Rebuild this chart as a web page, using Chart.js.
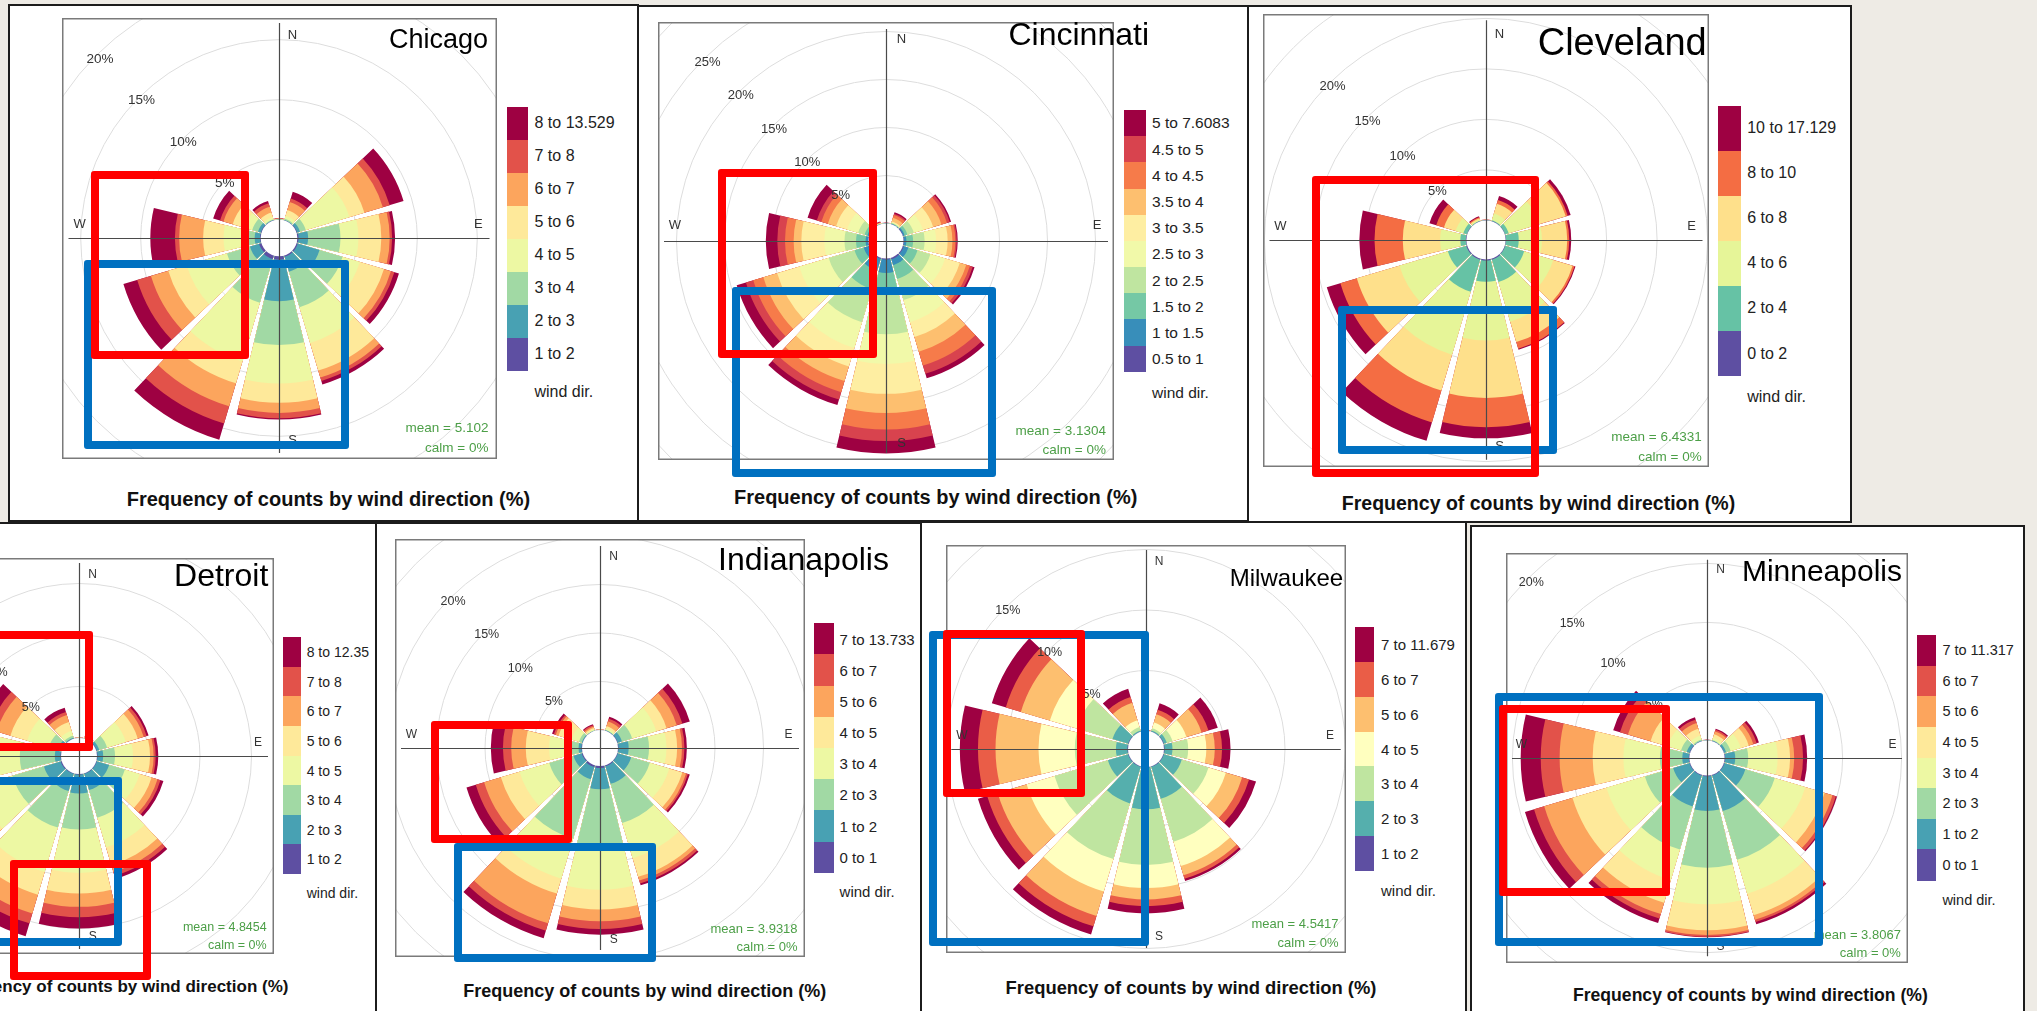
<!DOCTYPE html>
<html>
<head>
<meta charset="utf-8">
<script src="https://cdn.jsdelivr.net/npm/chart.js"></script>
<style>
  html, body { margin: 0; padding: 0; }
  body { width: 2037px; height: 1011px; overflow: hidden; background: #EEEBE5; position: relative;
         font-family: "Liberation Sans", Arial, sans-serif; }
  .panel { position: absolute; box-sizing: border-box; border: 2px solid #1c1c1c; background: #fff; }
  .txt { position: absolute; white-space: nowrap; line-height: 1; color: #222; }
  .key { position: absolute; }
  .mark { position: absolute; box-sizing: border-box; border-width: 8px; border-style: solid; border-radius: 3px; }
  canvas { position: absolute; }
</style>
</head>
<body>
<script>
// 30-degree direction sectors, clockwise from north
const directions = ['N', 'NNE', 'ENE', 'E', 'ESE', 'SSE', 'S', 'SSW', 'WSW', 'W', 'WNW', 'NNW'];
const footerText = 'Frequency of counts by wind direction (%)';
const calmText = 'calm = 0%';

// Each "Cumulative" table: one row per direction (N first), one column per
// speed band (slowest first); value = % of counts up to and including that band.

const chicagoBands = ['1 to 2', '2 to 3', '3 to 4', '4 to 5', '5 to 6', '6 to 7', '7 to 8', '8 to 13.529'];
const chicagoMean = 'mean = 5.102';
const chicagoCumulative = [
  [0.00, 0.02, 0.04, 0.06, 0.08, 0.10, 0.12, 0.15],
  [0.02, 0.05, 0.15, 0.40, 0.90, 1.60, 1.90, 2.50],
  [0.05, 0.30, 0.80, 4.60, 5.90, 7.50, 8.10, 9.30],
  [0.10, 0.90, 3.60, 5.10, 7.00, 7.70, 7.90, 8.15],
  [0.10, 2.00, 4.00, 5.50, 7.60, 8.20, 8.50, 8.90],
  [0.10, 1.40, 4.50, 7.60, 10.0, 10.6, 10.9, 11.2],
  [0.28, 3.75, 7.40, 10.6, 12.2, 13.05, 13.5, 13.6],
  [0.30, 1.00, 4.10, 9.20, 11.1, 13.1, 14.6, 16.0],
  [0.20, 1.00, 3.00, 6.50, 8.10, 9.60, 10.8, 12.0],
  [0.05, 0.50, 1.40, 3.10, 4.80, 6.80, 7.15, 9.20],
  [0.05, 0.30, 0.80, 1.50, 2.50, 3.30, 3.60, 4.20],
  [0.02, 0.05, 0.10, 0.30, 0.70, 1.20, 1.50, 1.70]
];

const cincinnatiBands = ['0.5 to 1', '1 to 1.5', '1.5 to 2', '2 to 2.5', '2.5 to 3', '3 to 3.5', '3.5 to 4', '4 to 4.5', '4.5 to 5', '5 to 7.6083'];
const cincinnatiMean = 'mean = 3.1304';
const cincinnatiCumulative = [
  [0.00, 0.01, 0.02, 0.03, 0.04, 0.05, 0.06, 0.07, 0.08, 0.10],
  [0.02, 0.05, 0.10, 0.15, 0.20, 0.30, 0.70, 1.00, 1.15, 1.30],
  [0.05, 0.20, 0.50, 1.20, 2.20, 3.30, 4.20, 4.80, 5.10, 5.25],
  [0.05, 0.30, 1.00, 2.20, 3.40, 4.60, 5.10, 5.40, 5.55, 5.65],
  [0.10, 0.60, 1.60, 3.00, 4.60, 6.20, 6.90, 7.30, 7.60, 7.80],
  [0.15, 0.80, 2.30, 4.60, 7.00, 8.60, 10.2, 11.7, 12.6, 13.1],
  [0.10, 1.50, 3.40, 7.90, 11.0, 14.1, 16.1, 17.8, 19.0, 20.3],
  [0.10, 1.40, 3.40, 7.00, 9.80, 11.8, 13.4, 14.6, 15.4, 16.0],
  [0.10, 0.60, 1.60, 4.40, 7.60, 10.0, 11.5, 12.6, 13.4, 14.4],
  [0.05, 0.30, 1.30, 2.50, 4.60, 7.00, 7.80, 8.70, 9.50, 10.7],
  [0.05, 0.20, 0.50, 1.20, 2.40, 3.60, 4.50, 5.20, 5.70, 6.70],
  [0.01, 0.02, 0.04, 0.06, 0.08, 0.10, 0.15, 0.20, 0.25, 0.30]
];

const clevelandBands = ['0 to 2', '2 to 4', '4 to 6', '6 to 8', '8 to 10', '10 to 17.129'];
const clevelandMean = 'mean = 6.4331';
const clevelandCumulative = [
  [0.01, 0.03, 0.05, 0.07, 0.09, 0.10],
  [0.02, 0.10, 0.80, 1.80, 2.20, 2.60],
  [0.02, 0.40, 3.60, 6.30, 6.50, 6.80],
  [0.03, 1.30, 3.60, 6.10, 6.30, 6.50],
  [0.05, 2.00, 5.00, 7.00, 7.20, 7.30],
  [0.10, 2.40, 6.50, 8.60, 9.30, 9.40],
  [0.10, 2.20, 8.00, 13.7, 16.6, 17.7],
  [0.10, 3.40, 9.90, 13.6, 16.9, 18.8],
  [0.10, 2.00, 7.00, 11.4, 13.1, 14.5],
  [0.05, 0.60, 2.60, 6.30, 9.10, 10.6],
  [0.02, 0.40, 1.20, 2.40, 3.20, 3.90],
  [0.01, 0.05, 0.15, 0.30, 0.40, 0.50]
];

const detroitBands = ['1 to 2', '2 to 3', '3 to 4', '4 to 5', '5 to 6', '6 to 7', '7 to 8', '8 to 12.35'];
const detroitMean = 'mean = 4.8454';
const detroitCumulative = [
  [0.00, 0.01, 0.02, 0.03, 0.04, 0.05, 0.06, 0.08],
  [0.01, 0.02, 0.05, 0.10, 0.15, 0.20, 0.25, 0.30],
  [0.05, 0.30, 1.10, 3.00, 4.20, 4.80, 5.10, 5.30],
  [0.05, 0.60, 1.75, 3.50, 5.15, 5.50, 5.70, 5.95],
  [0.05, 1.30, 2.90, 4.40, 5.60, 6.20, 6.50, 6.80],
  [0.05, 1.70, 4.50, 7.50, 9.30, 10.0, 10.4, 10.7],
  [0.05, 1.90, 5.40, 9.60, 11.6, 12.9, 13.9, 15.0],
  [0.05, 1.80, 5.50, 10.0, 12.3, 14.2, 15.2, 16.5],
  [0.10, 1.80, 5.00, 8.50, 10.5, 12.0, 12.8, 14.0],
  [0.05, 0.60, 4.00, 6.50, 8.00, 9.20, 9.80, 10.8],
  [0.05, 0.40, 1.30, 3.50, 5.20, 6.60, 7.30, 8.40],
  [0.02, 0.10, 0.30, 0.80, 1.70, 2.40, 2.70, 3.15]
];

const indianapolisBands = ['0 to 1', '1 to 2', '2 to 3', '3 to 4', '4 to 5', '5 to 6', '6 to 7', '7 to 13.733'];
const indianapolisMean = 'mean = 3.9318';
const indianapolisCumulative = [
  [0.00, 0.01, 0.02, 0.03, 0.04, 0.05, 0.06, 0.08],
  [0.02, 0.05, 0.10, 0.30, 0.50, 1.00, 1.30, 1.50],
  [0.05, 0.50, 1.60, 4.20, 5.30, 6.40, 7.00, 7.80],
  [0.05, 1.10, 3.20, 5.00, 6.10, 6.60, 6.85, 7.10],
  [0.05, 1.50, 3.50, 5.60, 7.00, 7.40, 7.60, 7.80],
  [0.10, 2.00, 6.20, 10.0, 12.0, 12.4, 12.7, 12.9],
  [0.20, 2.40, 8.60, 12.75, 14.8, 16.0, 16.8, 17.4],
  [0.20, 1.50, 7.90, 12.2, 13.8, 17.0, 17.8, 18.6],
  [0.10, 1.00, 3.60, 6.80, 8.80, 10.6, 11.5, 12.5],
  [0.05, 0.35, 1.60, 3.40, 5.80, 7.30, 8.15, 9.40],
  [0.02, 0.10, 0.40, 1.20, 2.60, 2.90, 3.10, 3.30],
  [0.01, 0.03, 0.06, 0.15, 0.30, 0.45, 0.60, 0.70]
];

const milwaukeeBands = ['1 to 2', '2 to 3', '3 to 4', '4 to 5', '5 to 6', '6 to 7', '7 to 11.679'];
const milwaukeeMean = 'mean = 4.5417';
const milwaukeeCumulative = [
  [0.00, 0.01, 0.02, 0.04, 0.06, 0.08, 0.10],
  [0.02, 0.10, 0.30, 0.80, 1.50, 1.90, 2.45],
  [0.05, 0.30, 0.80, 2.00, 3.30, 3.90, 4.70],
  [0.05, 0.70, 2.00, 3.50, 4.20, 4.80, 5.50],
  [0.05, 1.60, 3.90, 5.40, 6.80, 7.40, 8.00],
  [0.05, 2.80, 6.50, 8.60, 9.40, 9.70, 9.90],
  [0.05, 3.50, 8.10, 10.0, 10.95, 11.5, 12.1],
  [0.05, 3.20, 8.00, 10.8, 12.9, 13.8, 14.5],
  [0.05, 1.80, 6.40, 8.80, 11.3, 12.2, 13.0],
  [0.05, 1.00, 4.40, 7.40, 10.95, 12.4, 13.9],
  [0.05, 1.40, 4.50, 6.80, 9.30, 10.6, 11.8],
  [0.02, 0.10, 0.40, 1.00, 2.50, 3.00, 3.70]
];

const minneapolisBands = ['0 to 1', '1 to 2', '2 to 3', '3 to 4', '4 to 5', '5 to 6', '6 to 7', '7 to 11.317'];
const minneapolisMean = 'mean = 3.8067';
const minneapolisCumulative = [
  [0.00, 0.01, 0.02, 0.03, 0.04, 0.05, 0.06, 0.08],
  [0.02, 0.05, 0.10, 0.30, 0.60, 0.85, 1.00, 1.10],
  [0.02, 0.20, 0.60, 1.50, 2.20, 2.60, 2.90, 3.10],
  [0.05, 0.90, 2.00, 4.50, 5.55, 5.90, 6.65, 7.00],
  [0.05, 1.90, 4.50, 7.20, 8.90, 9.60, 9.90, 10.0],
  [0.05, 3.20, 7.50, 10.5, 12.4, 12.8, 13.0, 13.2],
  [0.05, 3.00, 7.80, 10.9, 13.1, 13.5, 13.65, 13.7],
  [0.05, 2.80, 6.60, 9.30, 11.3, 12.3, 12.7, 13.1],
  [0.05, 1.50, 4.00, 7.40, 10.4, 12.9, 13.8, 14.6],
  [0.05, 0.60, 2.50, 5.60, 8.20, 11.0, 12.6, 14.3],
  [0.05, 0.30, 0.80, 2.00, 3.50, 5.50, 6.20, 6.80],
  [0.02, 0.05, 0.15, 0.50, 1.10, 1.60, 1.90, 2.10]
];

// Spectral palette anchors (slow = purple ... fast = dark red)
const spectral = [[94,79,162],[50,136,189],[102,194,165],[171,221,164],[230,245,152],[255,255,191],
                  [254,224,139],[253,174,97],[244,109,67],[213,62,79],[158,1,66]];
function speedColours(n) {
  const out = [];
  for (let i = 0; i < n; i++) {
    const t = i * 10 / (n - 1);
    const a = Math.floor(t), b = Math.min(10, a + 1), f = t - a;
    const c = spectral[a].map((v, j) => Math.round(v + (spectral[b][j] - v) * f));
    out.push('rgb(' + c.join(',') + ')');
  }
  return out;
}

// Page layout of each plot: frame = [x, y, w, h]; r0 = calm-hole radius (px); k = px per %
const panels = [
  { name: 'Chicago', bands: chicagoBands, table: chicagoCumulative, mean: chicagoMean,
    panel: [8, 4, 639, 522], frame: [62, 18, 435, 441], r0: 18.3, k: 12,
    axis: [210.5, 215], compass: [199.3, 202.5, 13.5], compassFont: 13,
    grid: [5, 10, 15, 20, 25], pct: [5, 10, 15, 20], pctFont: 13.5,
    title: [488, 39, 27],
    legend: { x: 507, top: 106.7, w: 20.5, h: 264, labelX: 534.5, size: 16, windY: 392 },
    stats: [488.5, 428, 448, 13.5], footer: [328.4, 498.3, 20],
    marks: [['#0070C0', 84, 260, 348.8, 449.3], ['#FF0000', 90.6, 170.7, 248.9, 359.3]] },
  { name: 'Cincinnati', bands: cincinnatiBands, table: cincinnatiCumulative, mean: cincinnatiMean,
    panel: [637, 5, 1249, 522], frame: [658, 22, 456, 438], r0: 17.5, k: 9.6,
    axis: [222, 212], compass: [211, 202, 15.5], compassFont: 13,
    grid: [5, 10, 15, 20, 25, 30], pct: [5, 10, 15, 20, 25], pctFont: 13,
    title: [1149, 34, 32],
    legend: { x: 1123.5, top: 110, w: 22.4, h: 261.7, labelX: 1152, size: 15.5, windY: 393 },
    stats: [1106, 430.7, 450, 13.5], footer: [935.7, 496.7, 20],
    marks: [['#0070C0', 732, 287.3, 996.3, 476.7], ['#FF0000', 718.2, 169.3, 876.8, 358.3]] },
  { name: 'Cleveland', bands: clevelandBands, table: clevelandCumulative, mean: clevelandMean,
    panel: [1247, 5, 1852, 523], frame: [1263, 14, 446, 453], r0: 19.6, k: 10.1,
    axis: [216.5, 219.7], compass: [205.7, 206, 13.5], compassFont: 13,
    grid: [5, 10, 15, 20, 25], pct: [5, 10, 15, 20], pctFont: 13,
    title: [1706.7, 41.3, 38],
    legend: { x: 1718.3, top: 105.5, w: 22.3, h: 270.4, labelX: 1747.2, size: 16, windY: 397 },
    stats: [1701.7, 436.7, 456.3, 13.5], footer: [1538.5, 503.5, 19.5],
    marks: [['#0070C0', 1337.6, 305.9, 1557.5, 454], ['#FF0000', 1312.3, 175.8, 1538.8, 477.3]] },
  { name: 'Detroit', bands: detroitBands, table: detroitCumulative, mean: detroitMean,
    panel: [-10, 522, 377, 1030], frame: [-116, 558, 390, 396], r0: 18, k: 10.3,
    axis: [189, 193], compass: [179, 181, 13.7], compassFont: 12,
    grid: [5, 10, 15, 20, 25], pct: [5, 10, 15], pctFont: 12.5,
    title: [268.3, 575, 32],
    legend: { x: 282.7, top: 637.3, w: 18.3, h: 236.7, labelX: 306.7, size: 14, windY: 893.3 },
    stats: [266.7, 927.3, 945, 12.5], footer: [117, 986.7, 17],
    marks: [['#0070C0', -20, 777.3, 122, 946], ['#FF0000', -20, 631, 92.7, 750.7], ['#FF0000', 10, 860, 150.7, 980]] },
  { name: 'Indianapolis', bands: indianapolisBands, table: indianapolisCumulative, mean: indianapolisMean,
    panel: [375, 522, 922, 1030], frame: [395, 539, 410, 418], r0: 18, k: 9.7,
    axis: [199, 202], compass: [188.5, 191.7, 13.7], compassFont: 12,
    grid: [5, 10, 15, 20, 25], pct: [5, 10, 15, 20], pctFont: 12.5,
    title: [888.9, 558.3, 32],
    legend: { x: 814.1, top: 623.3, w: 19.7, h: 249.4, labelX: 839.6, size: 15, windY: 891.7 },
    stats: [797.6, 928.3, 946, 13], footer: [644.7, 991, 18],
    marks: [['#0070C0', 453.9, 842.7, 656.4, 961.7], ['#FF0000', 430.8, 721, 572, 842.7]] },
  { name: 'Milwaukee', bands: milwaukeeBands, table: milwaukeeCumulative, mean: milwaukeeMean,
    panel: [920, 521, 1467, 1030], frame: [946, 545, 400, 408], r0: 18, k: 12.1,
    axis: [194.7, 199], compass: [184, 187.5, 13.1], compassFont: 12,
    grid: [5, 10, 15, 20], pct: [5, 10, 15], pctFont: 12.5,
    title: [1343.2, 578, 24],
    legend: { x: 1355.2, top: 627.3, w: 18.8, h: 243.4, labelX: 1381, size: 15, windY: 890 },
    stats: [1338.6, 923.3, 942.7, 13], footer: [1191, 988.3, 18.4],
    marks: [['#0070C0', 929, 631, 1148.5, 946], ['#FF0000', 942.8, 630, 1084.8, 796.7]] },
  { name: 'Minneapolis', bands: minneapolisBands, table: minneapolisCumulative, mean: minneapolisMean,
    panel: [1470, 525, 2025, 1030], frame: [1506, 553, 402, 410], r0: 17.6, k: 11.8,
    axis: [195, 198.3], compass: [185.5, 188.6, 13.5], compassFont: 12,
    grid: [5, 10, 15, 20], pct: [5, 10, 15, 20], pctFont: 12.5,
    title: [1902, 570.5, 30],
    legend: { x: 1916.7, top: 635, w: 19.1, h: 245, labelX: 1942.4, size: 14.5, windY: 900 },
    stats: [1900.9, 934.3, 952.3, 13], footer: [1750.4, 996, 17.6],
    marks: [['#0070C0', 1495, 693.3, 1823.2, 946], ['#FF0000', 1499.4, 705, 1670.3, 896]] }
];

const FONT = '"Liberation Sans", Arial, sans-serif';

function addText(str, x, yc, size, align, style) {
  const d = document.createElement('div');
  d.className = 'txt';
  d.textContent = str;
  d.style.left = x + 'px';
  d.style.top = (yc - size * 0.49) + 'px';
  d.style.fontSize = size + 'px';
  if (align === 'right') d.style.transform = 'translateX(-100%)';
  if (align === 'center') d.style.transform = 'translateX(-50%)';
  Object.assign(d.style, style || {});
  document.body.appendChild(d);
}

function drawRose(p) {
  const [fx, fy, fw, fh] = p.frame;
  const canvas = document.createElement('canvas');
  canvas.width = fw;
  canvas.height = fh;
  canvas.style.left = fx + 'px';
  canvas.style.top = fy + 'px';
  document.body.appendChild(canvas);

  const half = Math.floor(Math.min(fw, fh) / 2);
  const rMin = -p.r0 / p.k;          // leaves room for the calm circle
  const rMax = rMin + half / p.k;
  const colours = speedColours(p.bands.length);
  const gap = 1.5 * Math.PI / 180;   // half of the angular gap between sectors

  const decor = {
    id: 'roseDecor',
    afterDatasetsUpdate(chart) {
      chart.getSortedVisibleDatasetMetas().forEach(meta => {
        meta.data.forEach(arc => { arc.startAngle += gap; arc.endAngle -= gap; });
      });
    },
    afterDatasetsDraw(chart) {
      const s = chart.scales.r;
      const ctx = chart.ctx;
      const cx = s.xCenter, cy = s.yCenter;
      ctx.save();
      // calm circle
      ctx.fillStyle = '#fff';
      ctx.beginPath();
      ctx.arc(cx, cy, s.getDistanceFromCenterForValue(0), 0, Math.PI * 2);
      ctx.fill();
      // compass axes
      ctx.strokeStyle = '#4a4a4a';
      ctx.lineWidth = 1.2;
      ctx.beginPath();
      ctx.moveTo(cx + 0.5, cy - p.axis[1]); ctx.lineTo(cx + 0.5, cy + p.axis[1]);
      ctx.moveTo(cx - p.axis[0], cy + 0.5); ctx.lineTo(cx + p.axis[0], cy + 0.5);
      ctx.stroke();
      // compass letters
      ctx.fillStyle = '#333';
      ctx.textAlign = 'center';
      ctx.textBaseline = 'middle';
      ctx.font = p.compassFont + 'px ' + FONT;
      const [rx, ry, off] = p.compass;
      ctx.fillText('N', cx + off, cy - ry);
      ctx.fillText('S', cx + off, cy + ry);
      ctx.fillText('E', cx + rx, cy - off);
      ctx.fillText('W', cx - rx, cy - off);
      // percentage labels along the north-west diagonal
      ctx.font = p.pctFont + 'px ' + FONT;
      p.pct.forEach(v => {
        const d = s.getDistanceFromCenterForValue(v) * 0.98 * Math.SQRT1_2;
        ctx.fillText(v + '%', cx - d, cy - d);
      });
      // plot frame
      ctx.strokeStyle = '#7a7a7a';
      ctx.lineWidth = 1.5;
      ctx.strokeRect(0.75, 0.75, chart.width - 1.5, chart.height - 1.5);
      ctx.restore();
    }
  };

  new Chart(canvas, {
    type: 'polarArea',
    data: {
      labels: directions,
      datasets: p.bands.map((band, i) => ({
        label: band,
        data: p.table.map(row => row[i]),
        backgroundColor: colours[i],
        borderWidth: 0
      }))
    },
    options: {
      responsive: false,
      animation: false,
      events: [],
      layout: { padding: 0 },
      plugins: { legend: { display: false }, tooltip: { enabled: false } },
      scales: {
        r: {
          min: rMin,
          max: rMax,
          startAngle: -15,
          ticks: { display: false },
          grid: { color: '#dddddd', lineWidth: 1 },
          angleLines: { display: false },
          pointLabels: { display: false },
          afterBuildTicks: scale => { scale.ticks = p.grid.map(v => ({ value: v })); }
        }
      }
    },
    plugins: [decor]
  });

  // speed legend (fastest band on top)
  const n = p.bands.length;
  const L = p.legend;
  const bh = L.h / n;
  for (let i = 0; i < n; i++) {
    const idx = n - 1 - i;
    const box = document.createElement('div');
    box.className = 'key';
    Object.assign(box.style, { left: L.x + 'px', top: (L.top + i * bh) + 'px', width: L.w + 'px',
                               height: (bh + 0.5) + 'px', background: colours[idx] });
    document.body.appendChild(box);
    addText(p.bands[idx], L.labelX, L.top + (i + 0.5) * bh, L.size, 'left');
  }
  addText('wind dir.', L.labelX, L.windY, L.size, 'left');

  addText(p.name, p.title[0], p.title[1], p.title[2], 'right', { color: '#000' });
  addText(p.mean, p.stats[0], p.stats[1], p.stats[3], 'right', { color: '#4c9f47' });
  addText(calmText, p.stats[0], p.stats[2], p.stats[3], 'right', { color: '#4c9f47' });
  addText(footerText, p.footer[0], p.footer[1], p.footer[2], 'center', { fontWeight: 'bold', color: '#111' });
}

// panel cards
panels.forEach(p => {
  const [l, t, r, b] = p.panel;
  const d = document.createElement('div');
  d.className = 'panel';
  Object.assign(d.style, { left: l + 'px', top: t + 'px', width: (r - l) + 'px', height: (b - t) + 'px' });
  document.body.appendChild(d);
});

panels.forEach(drawRose);

// highlight rectangles
panels.forEach(p => {
  p.marks.forEach(([colour, l, t, r, b]) => {
    const m = document.createElement('div');
    m.className = 'mark';
    Object.assign(m.style, { left: l + 'px', top: t + 'px', width: (r - l) + 'px', height: (b - t) + 'px',
                             borderColor: colour });
    document.body.appendChild(m);
  });
});
</script>
</body>
</html>
